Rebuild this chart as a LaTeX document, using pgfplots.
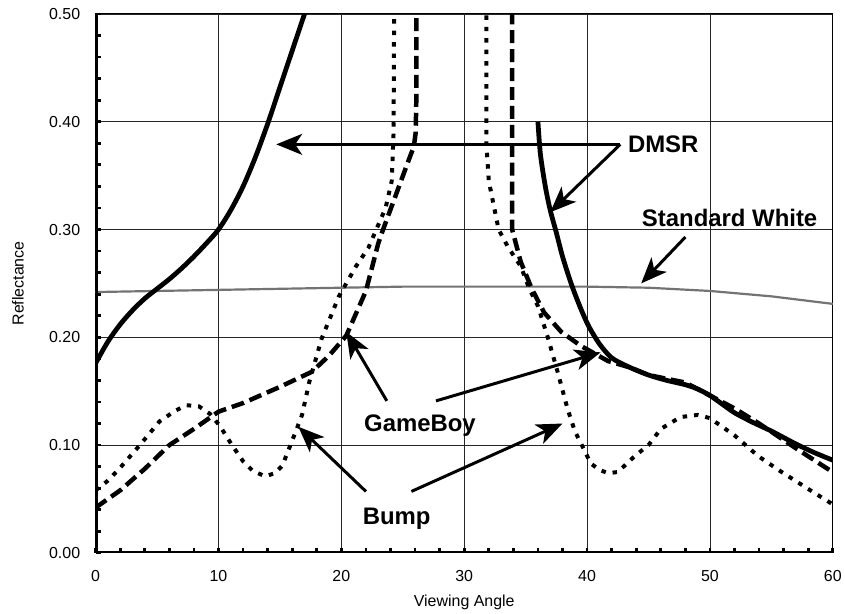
\documentclass[border=0pt]{standalone}
\usepackage{fontspec}
\setmainfont{Liberation Sans}
\usepackage{pgfplots}
\pgfplotsset{compat=1.18}
\usetikzlibrary{arrows.meta}

\tikzset{
  note/.style={font=\fontsize{24}{28}\selectfont\bfseries, inner sep=0pt},
  pointer/.style={line width=3pt, -{Stealth[length=26pt,width=21pt,inset=7pt]}},
}

\begin{document}
\begin{tikzpicture}
\begin{axis}[
  scale only axis,
  width=740pt, height=541pt,
  xmin=0, xmax=60, ymin=0, ymax=0.5,
  xtick={0,10,...,60},
  ytick={0,0.1,0.2,0.3,0.4,0.5},
  minor x tick num=4, minor y tick num=4,
  tick pos=left, tick align=inside,
  major tick length=5pt, minor tick length=5pt,
  every tick/.style={black, line width=2.8pt},
  minor tick style={black, line width=2.8pt},
  grid=major,
  major grid style={black!85, line width=0.8pt},
  axis line style={black, line width=1pt},
  /pgf/number format/assume math mode=true,
  yticklabel={\pgfmathprintnumber[fixed, fixed zerofill, precision=2]{\tick}},
  ticklabel style={font=\fontsize{16}{19}\selectfont},
  yticklabel style={xshift=-12pt},
  xticklabel style={yshift=-14pt},
  xlabel={Viewing Angle},
  ylabel={Reflectance},
  label style={font=\fontsize{16}{19}\selectfont},
  xlabel style={at={(axis description cs:0.5,-0.0924)}, anchor=center},
  ylabel style={at={(axis description cs:-0.1054,0.5)}, anchor=center},
]

% Standard White
\addplot[black!55, line width=2.2pt] coordinates {
  (0,0.242) (5,0.243) (10,0.244) (15,0.245) (20,0.246) (25,0.247)
  (30,0.247) (35,0.247) (40,0.247) (45,0.246) (50,0.243) (55,0.238) (60,0.231)
};

% DMSR
\addplot[black, line width=4.8pt, smooth] coordinates {
  (0,0.176) (1,0.196) (2,0.212) (3,0.225) (4,0.236) (5,0.245) (6,0.254)
  (7,0.264) (8,0.275) (9,0.287) (10,0.300) (11,0.318) (12,0.340)
  (13,0.367) (14,0.398) (15,0.432) (16,0.466) (17,0.500) (17.4,0.514)
};
\addplot[black, line width=4.8pt, smooth] coordinates {
  (36.0,0.400) (36.2,0.370) (36.6,0.340) (37.0,0.318) (37.5,0.297)
  (38.0,0.275) (38.7,0.250) (39.4,0.229) (40.1,0.211) (41.0,0.194)
  (42.0,0.181) (43.3,0.173) (45,0.165) (46.5,0.160) (48,0.156)
  (49,0.152) (50,0.146) (51,0.138) (52,0.130) (53.5,0.121) (55,0.113)
  (57,0.101) (58.5,0.093) (60,0.086)
};

% GameBoy
\addplot[black, line width=4.5pt, dash pattern=on 13pt off 6pt] coordinates {
  (0,0.042) (2,0.058) (4,0.078) (6,0.100) (8,0.115) (10,0.131) (12,0.139)
  (14,0.149) (15,0.154) (17.6,0.168) (19,0.183) (20.4,0.2015) (22,0.243)
  (23,0.287) (23.3,0.297) (24.4,0.331) (25.5,0.365) (25.9,0.377)
  (26.05,0.390) (26.1,0.420) (26.1,0.520)
};
\addplot[black, line width=4.5pt, dash pattern=on 13pt off 6pt] coordinates {
  (33.9,0.520) (33.9,0.300) (34.6,0.270) (35.5,0.245) (36.5,0.223)
  (37.9,0.205) (39.5,0.192) (41.7,0.178) (43.5,0.172) (45,0.165)
  (48,0.158) (50,0.146) (52,0.134) (54,0.120) (57,0.097) (59.3,0.080)
  (60,0.075)
};

% Bump
\addplot[black, line width=4pt, dash pattern=on 4.5pt off 7pt] coordinates {
  (0,0.058) (1,0.067) (2,0.079) (3.6,0.100) (5.2,0.122) (6.5,0.132)
  (7.4,0.137) (8.4,0.136) (9.3,0.129) (10.1,0.118) (11.1,0.100)
  (12,0.085) (12.8,0.076) (13.8,0.071) (14.6,0.074) (15.2,0.081)
  (16.3,0.113) (16.8,0.128) (17.4,0.159) (18.4,0.199) (19.8,0.238)
  (21.2,0.266) (22.2,0.283) (23.6,0.320) (24.1,0.345) (24.25,0.390)
  (24.3,0.520)
};
\addplot[black, line width=4pt, dash pattern=on 4.5pt off 7pt] coordinates {
  (31.8,0.520) (31.8,0.380) (32.0,0.345) (32.8,0.300) (33.6,0.283)
  (34.6,0.266) (35.3,0.245) (36.0,0.229) (36.8,0.200) (37.6,0.168)
  (38.4,0.134) (39.0,0.113) (39.7,0.097) (40.3,0.083) (41.0,0.077)
  (41.7,0.074) (42.5,0.075) (43.9,0.090) (45,0.100) (46,0.115)
  (47.6,0.126) (49,0.128) (50,0.125) (52,0.109) (53.9,0.090)
  (55.7,0.076) (57.9,0.060) (60,0.045)
};

% heavy left and bottom axis lines
\draw[black, line width=4pt] (rel axis cs:0,1) -- (rel axis cs:0,0) -- (rel axis cs:1,0);

% annotations
\node[note] at (axis cs:46.2,0.379) {DMSR};
\draw[pointer] (axis cs:42.7,0.379) -- (axis cs:14.7,0.379);
\draw[pointer] (axis cs:42.7,0.379) -- (axis cs:37.0,0.316);

\node[note] at (axis cs:51.6,0.311) {Standard White};
\draw[pointer] (axis cs:48.0,0.293) -- (axis cs:44.4,0.250);

\node[note] at (axis cs:26.4,0.118) {GameBoy};
\draw[pointer] (axis cs:23.7,0.141) -- (axis cs:20.4,0.205);
\draw[pointer] (axis cs:27.7,0.141) -- (axis cs:41.1,0.186);

\node[note] at (axis cs:24.5,0.032) {Bump};
\draw[pointer] (axis cs:22.0,0.057) -- (axis cs:16.5,0.117);
\draw[pointer] (axis cs:25.7,0.057) -- (axis cs:38.0,0.120);
\end{axis}
\path ([shift={(-96pt,-61pt)}]current axis.south west) rectangle ([shift={(9pt,14pt)}]current axis.north east);
\end{tikzpicture}
\end{document}
